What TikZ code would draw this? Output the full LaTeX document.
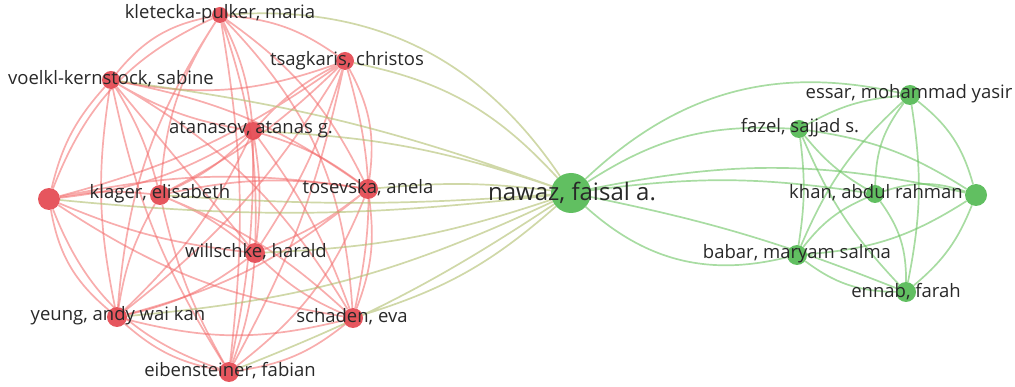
\documentclass[tikz,border=0pt]{standalone}
\usepackage{fontspec}
\setmainfont{Open Sans}
\usetikzlibrary{backgrounds}
\definecolor{redfill}{RGB}{228,72,80}
\definecolor{greenfill}{RGB}{84,186,84}
\definecolor{redlinkc}{RGB}{242,105,105}
\definecolor{greenlinkc}{RGB}{110,196,100}
\definecolor{mixlinkc}{RGB}{176,190,110}
\definecolor{labeltext}{RGB}{40,40,40}
\tikzstyle{rednode} = [circle, fill=redfill, fill opacity=0.92, inner sep=0pt]
\tikzstyle{greennode} = [circle, fill=greenfill, fill opacity=0.92, inner sep=0pt]
\tikzstyle{authorlabel} = [text=labeltext, font=\fontsize{18.5}{18.5}\selectfont, inner sep=0pt]
\tikzstyle{biglabel} = [text=labeltext, font=\fontsize{24}{24}\selectfont, inner sep=0pt]
\tikzstyle{redlink} = [draw=redlinkc, line width=1.7pt, draw opacity=0.55]
\tikzstyle{greenlink} = [draw=greenlinkc, line width=1.7pt, draw opacity=0.6]
\tikzstyle{mixlink} = [draw=mixlinkc, line width=1.7pt, draw opacity=0.6]

\begin{document}
\begin{tikzpicture}[x=1pt, y=-1pt]
\useasboundingbox (0,0) rectangle (1015,387);

% red cluster
\node (kp) [rednode, minimum size=16pt] at (220,15) {};
\node (ts) [rednode, minimum size=18pt] at (345,61) {};
\node (vk) [rednode, minimum size=18pt] at (111,80) {};
\node (at) [rednode, minimum size=18pt] at (253,131) {};
\node (ul) [rednode, minimum size=22pt] at (49,199) {};
\node (kl) [rednode, minimum size=20pt] at (160,195) {};
\node (to) [rednode, minimum size=20pt] at (368,189) {};
\node (wi) [rednode, minimum size=20pt] at (255,253) {};
\node (ye) [rednode, minimum size=20pt] at (117,317) {};
\node (sc) [rednode, minimum size=20pt] at (353,318) {};
\node (ei) [rednode, minimum size=20pt] at (229,372) {};

% green cluster
\node (na) [greennode, minimum size=40pt] at (571,193) {};
\node (es) [greennode, minimum size=20pt] at (910,95) {};
\node (fa) [greennode, minimum size=18pt] at (799,129) {};
\node (kh) [greennode, minimum size=18pt] at (875,194) {};
\node (ur) [greennode, minimum size=22pt] at (976,195) {};
\node (bb) [greennode, minimum size=20pt] at (797,255) {};
\node (en) [greennode, minimum size=20pt] at (906,292) {};

\begin{scope}[on background layer]
% links inside the red cluster
\draw [redlink] (kp) to[bend left=15] (ts) (kp) to[bend right=20] (vk) (kp) to[bend left=10] (at)
  (kp) to[bend right=22] (ul) (kp) to[bend right=14] (kl) (kp) to[bend left=14] (to)
  (kp) to[bend left=10] (wi) (kp) to[bend right=14] (ye) (kp) to[bend left=20] (sc)
  (kp) to[bend left=8] (ei);
\draw [redlink] (ts) to[bend left=15] (vk) (ts) to[bend right=10] (at) (ts) to[bend left=10] (ul)
  (ts) to[bend left=8] (kl) (ts) to[bend left=18] (to) (ts) to[bend left=8] (wi)
  (ts) to[bend left=10] (ye) (ts) to[bend left=14] (sc) (ts) to[bend left=8] (ei);
\draw [redlink] (vk) to[bend right=10] (at) (vk) to[bend right=14] (ul) (vk) to[bend left=8] (kl)
  (vk) to[bend left=12] (to) (vk) to (wi) (vk) to[bend right=10] (ye)
  (vk) to[bend left=14] (sc) (vk) to[bend right=10] (ei);
\draw [redlink] (at) to[bend left=12] (ul) (at) to[bend left=10] (kl) (at) to[bend left=10] (to)
  (at) to[bend left=8] (wi) (at) to[bend left=10] (ye) (at) to[bend left=8] (sc)
  (at) to[bend left=6] (ei);
\draw [redlink] (ul) to[bend left=8] (kl) (ul) to[bend left=10] (to) (ul) to[bend right=8] (wi)
  (ul) to[bend right=20] (ye) (ul) to[bend right=12] (sc) (ul) to[bend right=25] (ei);
\draw [redlink] (kl) to[bend left=10] (to) (kl) to[bend left=8] (wi) (kl) to[bend right=10] (ye)
  (kl) to[bend left=10] (sc) (kl) to[bend right=8] (ei);
\draw [redlink] (to) to[bend left=8] (wi) (to) to[bend left=12] (ye) (to) to[bend left=14] (sc)
  (to) to[bend left=15] (ei);
\draw [redlink] (wi) to[bend left=12] (ye) (wi) to[bend right=10] (sc) (wi) to[bend left=8] (ei);
\draw [redlink] (ye) to[bend right=14] (sc) (ye) to[bend right=15] (ei);
\draw [redlink] (sc) to[bend left=15] (ei);

% links from nawaz to the red cluster
\draw [mixlink] (na) to[bend right=30] (kp) (na) to[bend right=18] (ts) (na) to[bend right=8] (at)
  (na) to[bend right=6] (vk) (na) to[bend right=6] (to) (na) to[bend left=4] (kl)
  (na) to[bend left=6] (ul) (na) to[bend left=8] (wi) (na) to[bend left=10] (ye)
  (na) to[bend left=12] (sc) (na) to[bend left=6] (ei);

% links inside the green cluster
\draw [greenlink] (na) to[bend left=28] (es) (na) to[bend left=18] (fa) (na) to[bend left=12] (ur)
  (na) to[bend left=8] (kh) (na) to[bend left=5] (en) (na) to[bend right=28] (bb);
\draw [greenlink] (es) to[bend right=12] (fa) (es) to[bend right=18] (kh) (es) to[bend left=18] (ur)
  (es) to[bend right=12] (bb) (es) to[bend left=10] (en);
\draw [greenlink] (fa) to[bend right=10] (kh) (fa) to[bend left=12] (ur) (fa) to[bend left=8] (bb)
  (fa) to[bend right=10] (en);
\draw [greenlink] (kh) to[bend left=18] (ur) (kh) to[bend right=14] (bb) (kh) to[bend left=18] (en);
\draw [greenlink] (ur) to[bend left=14] (bb) (ur) to[bend left=14] (en);
\draw [greenlink] (bb) to[bend right=18] (en);
\end{scope}

% labels
\node (kp label) [authorlabel] at (220,14) {kletecka-pulker, maria};
\node (ts label) [authorlabel] at (347,61) {tsagkaris, christos};
\node (vk label) [authorlabel] at (111,79) {voelkl-kernstock, sabine};
\node (at label) [authorlabel] at (251,130) {atanasov, atanas g.};
\node (kl label) [authorlabel] at (160,194) {klager, elisabeth};
\node (to label) [authorlabel] at (368,188) {tosevska, anela};
\node (wi label) [authorlabel] at (256,252) {willschke, harald};
\node (ye label) [authorlabel] at (118,316) {yeung, andy wai kan};
\node (sc label) [authorlabel] at (352,317) {schaden, eva};
\node (ei label) [authorlabel] at (230,371) {eibensteiner, fabian};
\node (na label) [biglabel] at (572,193) {nawaz, faisal a.};
\node (es label) [authorlabel] at (909,94) {essar, mohammad yasir};
\node (fa label) [authorlabel] at (800,128) {fazel, sajjad s.};
\node (kh label) [authorlabel] at (876,193) {khan, abdul rahman};
\node (bb label) [authorlabel] at (797,254) {babar, maryam salma};
\node (en label) [authorlabel] at (906,292) {ennab, farah};
\end{tikzpicture}
\end{document}
